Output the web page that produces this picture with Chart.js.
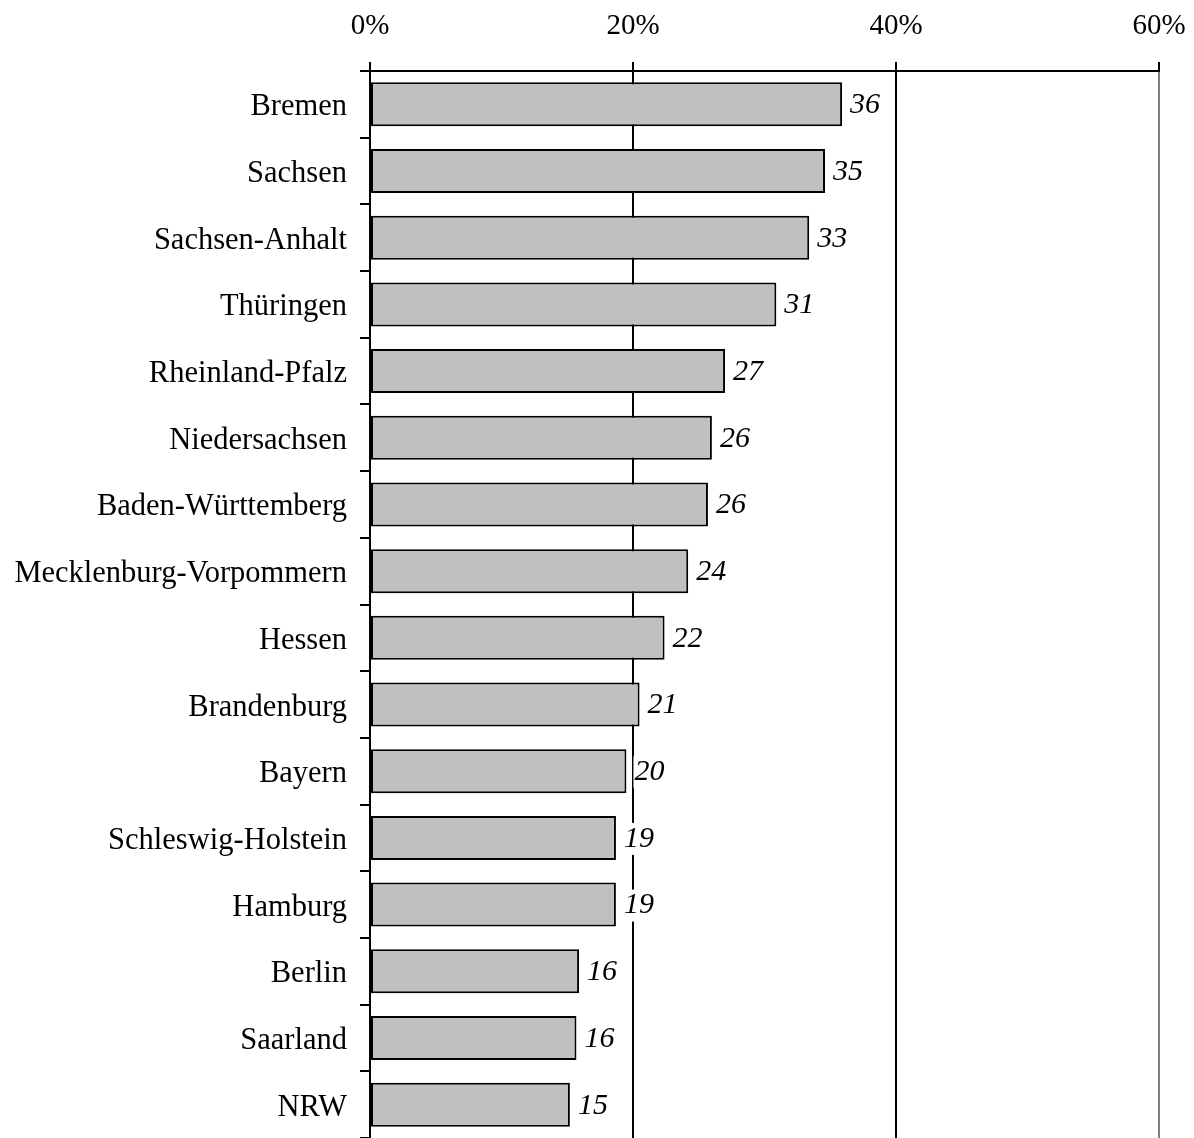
<!DOCTYPE html>
<html>
<head>
<meta charset="utf-8">
<script src="https://cdn.jsdelivr.net/npm/chart.js@4"></script>
<style>
html,body{margin:0;padding:0;background:#fff;}
#wrap{width:1194px;height:1138px;}
</style>
</head>
<body>
<div id="wrap"><canvas id="c" width="1194" height="1138"></canvas></div>
<script>
const categories = ["Bremen","Sachsen","Sachsen-Anhalt","Thüringen","Rheinland-Pfalz","Niedersachsen","Baden-Württemberg","Mecklenburg-Vorpommern","Hessen","Brandenburg","Bayern","Schleswig-Holstein","Hamburg","Berlin","Saarland","NRW"];
const values = [35.9,34.6,33.4,30.9,27.0,26.0,25.7,24.2,22.4,20.5,19.5,18.7,18.7,15.9,15.7,15.2];
const valueLabels = ["36","35","33","31","27","26","26","24","22","21","20","19","19","16","16","15"];
const xTicks = [0,20,40,60];

const FONT = "'Liberation Serif','Times New Roman',serif";

const labelPlugin = {
  id: 'barLabels',
  afterDatasetsDraw(chart) {
    const ctx = chart.ctx;
    const meta = chart.getDatasetMeta(0);
    ctx.save();
    ctx.font = "italic 30px " + FONT;
    ctx.textBaseline = 'middle';
    ctx.textAlign = 'left';
    meta.data.forEach((bar, i) => {
      const t = valueLabels[i];
      const x = bar.x + 8;
      const y = bar.y;
      const w = ctx.measureText(t).width;
      ctx.fillStyle = '#fff';
      ctx.fillRect(x - 1, y - 15, w + 3, 32);
      ctx.fillStyle = '#000';
      ctx.fillText(t, x, y + 1);
    });
    ctx.restore();
  }
};

new Chart(document.getElementById('c'), {
  type: 'bar',
  data: {
    labels: categories,
    datasets: [{
      data: values,
      backgroundColor: '#c0c0c0',
      borderColor: '#000',
      borderWidth: 2,
      borderSkipped: false,
      barPercentage: 0.66,
      categoryPercentage: 1.0
    }]
  },
  options: {
    indexAxis: 'y',
    responsive: false,
    animation: false,
    devicePixelRatio: 1,
    layout: { padding: { left: 0, top: 0, right: 35, bottom: -2 } },
    plugins: { legend: { display: false }, tooltip: { enabled: false } },
    scales: {
      x: {
        position: 'top',
        min: 0,
        max: 60,
        afterBuildTicks: (s) => { s.ticks = xTicks.map(v => ({ value: v })); },
        afterFit: (s) => { s.height = 71; s.paddingLeft = 0; s.paddingRight = 0; },
        ticks: {
          callback: (v) => v + '%',
          font: { family: FONT, size: 29 },
          color: '#000',
          padding: 18,
          maxRotation: 0
        },
        grid: {
          color: (c) => (c.tick && c.tick.value === 60) ? '#808080' : '#000',
          tickColor: '#000',
          lineWidth: 2,
          tickLength: 9,
          drawOnChartArea: true
        },
        border: { color: '#000', width: 2 }
      },
      y: {
        afterFit: (s) => { s.width = 370; s.paddingTop = 0; s.paddingBottom = 0; },
        ticks: {
          font: { family: FONT, size: 30.5 },
          color: '#000',
          padding: 13,
          labelOffset: 3
        },
        grid: {
          drawOnChartArea: false,
          offset: true,
          color: '#000',
          lineWidth: 2,
          tickLength: 10
        },
        border: { color: '#000', width: 2 }
      }
    }
  },
  plugins: [labelPlugin]
});
</script>
</body>
</html>
